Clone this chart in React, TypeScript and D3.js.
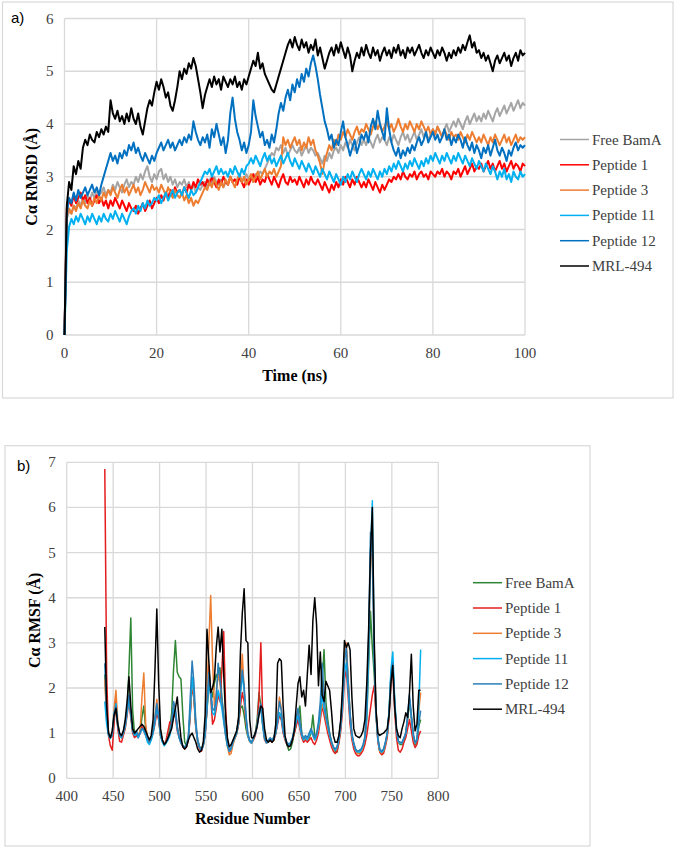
import React from 'react';
import * as d3 from 'd3';

// RMSD (a): one value every 0.5 ns, 0 - 100 ns
const rmsdFreeBamA = [
  0.00, 2.20, 2.35, 2.30, 2.45, 2.40, 2.55, 2.45, 2.60, 2.50,
  2.65, 2.55, 2.70, 2.60, 2.75, 2.65, 2.70, 2.80, 2.65, 2.75,
  2.70, 2.85, 2.75, 2.90, 2.80, 2.70, 2.85, 2.95, 2.80, 2.90,
  2.85, 3.00, 2.90, 3.05, 2.95, 3.10, 3.20, 3.00, 2.90, 3.05,
  2.95, 3.10, 3.15, 2.95, 3.05, 2.90, 3.00, 2.85, 2.95, 2.80,
  2.90, 2.85, 2.95, 2.80, 2.90, 2.75, 2.85, 2.70, 2.80, 2.75,
  2.85, 2.90, 2.80, 2.95, 2.85, 3.00, 2.90, 2.85, 2.95, 2.80,
  2.90, 2.85, 3.00, 2.90, 2.95, 2.85, 3.00, 2.90, 2.95, 3.05,
  2.95, 3.00, 2.90, 3.05, 3.00, 3.10, 3.05, 3.15, 3.25, 3.35,
  3.45, 3.40, 3.55, 3.50, 3.60, 3.45, 3.55, 3.40, 3.50, 3.60,
  3.50, 3.45, 3.55, 3.40, 3.50, 3.60, 3.45, 3.55, 3.50, 3.40,
  3.45, 3.35, 3.25, 3.40, 3.30, 3.45, 3.35, 3.50, 3.55, 3.45,
  3.60, 3.50, 3.65, 3.55, 3.70, 3.60, 3.50, 3.65, 3.75, 3.60,
  3.70, 3.60, 3.75, 3.65, 3.55, 3.70, 3.80, 3.65, 3.75, 3.70,
  3.60, 3.75, 3.65, 3.80, 3.70, 3.60, 3.75, 3.85, 3.70, 3.80,
  3.65, 3.75, 3.85, 3.70, 3.80, 3.90, 3.75, 3.85, 3.70, 3.80,
  3.90, 3.80, 3.95, 3.85, 3.75, 3.90, 4.00, 3.85, 3.95, 4.05,
  3.95, 4.10, 4.00, 3.90, 4.05, 4.15, 4.00, 4.10, 4.20, 4.05,
  4.15, 4.05, 4.20, 4.10, 4.25, 4.15, 4.05, 4.20, 4.30, 4.15,
  4.25, 4.35, 4.20, 4.30, 4.40, 4.25, 4.35, 4.45, 4.30, 4.40,
  4.35,
];
const rmsdPeptide1 = [
  0.00, 2.40, 2.55, 2.45, 2.65, 2.50, 2.60, 2.70, 2.55, 2.65,
  2.50, 2.60, 2.45, 2.55, 2.65, 2.50, 2.60, 2.45, 2.55, 2.40,
  2.55, 2.45, 2.60, 2.50, 2.40, 2.55, 2.45, 2.35, 2.50, 2.40,
  2.35, 2.45, 2.30, 2.40, 2.50, 2.35, 2.45, 2.55, 2.40, 2.50,
  2.60, 2.50, 2.65, 2.55, 2.70, 2.60, 2.75, 2.65, 2.80, 2.70,
  2.75, 2.65, 2.80, 2.70, 2.85, 2.75, 2.90, 2.80, 2.95, 2.85,
  2.90, 2.80, 2.95, 2.85, 3.00, 2.90, 2.80, 2.95, 2.85, 3.00,
  2.90, 2.85, 3.00, 2.90, 2.95, 2.85, 3.00, 2.90, 2.80, 2.95,
  2.85, 2.95, 3.05, 2.90, 3.00, 2.85, 2.95, 2.90, 3.05, 2.95,
  2.85, 3.00, 2.90, 2.80, 2.95, 3.05, 2.90, 2.85, 3.00, 2.90,
  2.95, 2.85, 3.00, 2.90, 2.80, 2.95, 2.85, 3.00, 2.90, 2.85,
  2.95, 2.85, 2.75, 2.90, 2.80, 2.70, 2.85, 2.75, 2.90, 2.80,
  2.95, 2.85, 3.00, 2.90, 2.80, 2.95, 2.85, 3.00, 2.90, 2.80,
  2.90, 2.80, 2.95, 2.85, 2.75, 2.90, 2.80, 2.70, 2.85, 2.75,
  2.85, 2.95, 2.90, 3.00, 2.95, 3.05, 2.95, 3.10, 3.00, 2.95,
  3.05, 3.00, 3.10, 2.95, 3.05, 3.10, 3.00, 3.05, 2.95, 3.10,
  3.05, 3.00, 3.10, 3.05, 3.15, 3.00, 3.10, 3.05, 2.95, 3.10,
  3.05, 3.15, 3.00, 3.10, 3.20, 3.05, 3.15, 3.25, 3.10, 3.20,
  3.15, 3.25, 3.10, 3.20, 3.30, 3.15, 3.25, 3.10, 3.20, 3.30,
  3.15, 3.25, 3.10, 3.20, 3.30, 3.15, 3.25, 3.20, 3.10, 3.25,
  3.20,
];
const rmsdPeptide3 = [
  0.00, 2.25, 2.40, 2.30, 2.45, 2.35, 2.50, 2.40, 2.55, 2.45,
  2.40, 2.55, 2.45, 2.60, 2.50, 2.65, 2.55, 2.70, 2.60, 2.75,
  2.65, 2.80, 2.70, 2.60, 2.75, 2.85, 2.70, 2.80, 2.65, 2.75,
  2.85, 2.70, 2.80, 2.65, 2.75, 2.90, 2.80, 2.70, 2.85, 2.75,
  2.80, 2.70, 2.85, 2.75, 2.65, 2.80, 2.70, 2.60, 2.75, 2.65,
  2.60, 2.70, 2.55, 2.65, 2.50, 2.60, 2.45, 2.55, 2.50, 2.60,
  2.70, 2.80, 2.75, 2.90, 2.80, 2.95, 2.85, 2.75, 2.90, 2.80,
  2.95, 2.85, 3.00, 2.90, 2.80, 2.95, 3.05, 2.90, 3.00, 2.85,
  2.95, 3.05, 2.90, 3.00, 3.10, 2.95, 3.05, 3.15, 3.00, 3.10,
  3.05, 3.15, 3.00, 3.10, 3.20, 3.75, 3.60, 3.70, 3.55, 3.65,
  3.75, 3.60, 3.70, 3.50, 3.65, 3.55, 3.75, 3.60, 3.70, 3.50,
  3.40, 3.25, 3.05, 3.30, 3.45, 3.60, 3.50, 3.70, 3.60, 3.80,
  3.70, 3.85, 3.75, 3.90, 3.80, 3.70, 3.85, 3.95, 3.80, 3.90,
  3.85, 4.00, 3.90, 3.80, 3.95, 4.05, 3.90, 4.00, 3.85, 3.95,
  4.05, 3.90, 4.00, 3.85, 3.95, 4.10, 3.95, 3.85, 4.00, 3.90,
  4.05, 3.95, 3.85, 4.00, 3.90, 4.05, 3.95, 3.85, 3.95, 3.80,
  3.90, 3.80, 3.95, 3.85, 3.75, 3.90, 3.80, 3.70, 3.85, 3.75,
  3.80, 3.70, 3.85, 3.75, 3.65, 3.80, 3.70, 3.85, 3.75, 3.65,
  3.75, 3.65, 3.80, 3.70, 3.60, 3.75, 3.65, 3.80, 3.70, 3.60,
  3.70, 3.80, 3.65, 3.75, 3.60, 3.70, 3.80, 3.65, 3.75, 3.70,
  3.75,
];
const rmsdPeptide11 = [
  0.00, 1.60, 2.05, 2.20, 2.10, 2.25, 2.15, 2.30, 2.20, 2.10,
  2.25, 2.15, 2.30, 2.20, 2.10, 2.25, 2.15, 2.30, 2.20, 2.15,
  2.30, 2.20, 2.35, 2.25, 2.15, 2.30, 2.20, 2.10, 2.25, 2.35,
  2.40, 2.30, 2.45, 2.35, 2.50, 2.40, 2.55, 2.45, 2.50, 2.60,
  2.55, 2.65, 2.50, 2.60, 2.70, 2.55, 2.65, 2.75, 2.60, 2.70,
  2.75, 2.65, 2.80, 2.70, 2.60, 2.75, 2.65, 2.70, 2.80, 2.90,
  3.00, 3.10, 3.05, 3.15, 3.00, 3.10, 3.20, 3.05, 3.15, 3.05,
  3.10, 3.00, 3.15, 3.05, 3.20, 3.10, 3.00, 3.15, 3.05, 3.20,
  3.25, 3.35, 3.25, 3.40, 3.30, 3.20, 3.35, 3.45, 3.30, 3.40,
  3.25, 3.35, 3.20, 3.30, 3.40, 3.25, 3.35, 3.45, 3.30, 3.20,
  3.35, 3.25, 3.15, 3.30, 3.20, 3.10, 3.25, 3.15, 3.05, 3.20,
  3.10, 3.00, 3.15, 3.05, 2.95, 3.10, 3.00, 2.90, 3.05, 2.95,
  2.85, 3.00, 2.90, 3.05, 2.95, 3.10, 3.00, 2.90, 3.05, 3.15,
  3.05, 2.95, 3.10, 3.00, 3.15, 3.05, 2.95, 3.10, 3.00, 3.15,
  3.05, 3.20, 3.10, 3.25, 3.15, 3.30, 3.20, 3.10, 3.25, 3.15,
  3.30, 3.20, 3.35, 3.25, 3.15, 3.30, 3.20, 3.35, 3.25, 3.40,
  3.30, 3.45, 3.35, 3.25, 3.40, 3.30, 3.45, 3.35, 3.25, 3.40,
  3.30, 3.45, 3.35, 3.25, 3.40, 3.30, 3.20, 3.35, 3.25, 3.15,
  3.30, 3.20, 3.10, 3.25, 3.15, 3.05, 3.20, 3.10, 2.95, 3.10,
  3.00, 3.15, 2.95, 3.05, 2.90, 3.10, 3.00, 2.95, 3.10, 3.00,
  3.05,
];
const rmsdPeptide12 = [
  0.00, 2.30, 2.60, 2.50, 2.70, 2.55, 2.75, 2.60, 2.70, 2.80,
  2.65, 2.75, 2.85, 2.70, 2.80, 2.65, 2.85, 3.00, 3.15, 3.30,
  3.45, 3.30, 3.40, 3.25, 3.45, 3.35, 3.50, 3.40, 3.60, 3.50,
  3.65, 3.45, 3.55, 3.40, 3.30, 3.45, 3.35, 3.25, 3.40, 3.30,
  3.45, 3.55, 3.65, 3.50, 3.60, 3.70, 3.55, 3.65, 3.50, 3.60,
  3.70, 3.60, 3.75, 3.65, 3.80, 3.70, 4.05, 3.85, 3.70, 3.60,
  3.75, 3.65, 3.80, 3.55, 3.90, 3.75, 4.00, 3.80, 3.60, 3.75,
  3.45, 3.70, 4.20, 4.50, 4.10, 3.85, 3.70, 3.50, 3.65, 3.45,
  3.60, 3.85, 4.45, 4.15, 3.95, 3.75, 3.85, 3.60, 3.70, 3.55,
  3.80, 3.65, 3.90, 4.20, 4.40, 4.25, 4.50, 4.65, 4.45, 4.75,
  4.60, 4.85, 4.70, 4.95, 4.80, 5.05, 4.90, 5.15, 5.30, 5.10,
  4.85, 4.55, 4.30, 4.05, 3.90, 3.70, 3.80, 3.55, 3.70, 3.60,
  3.85, 4.05, 3.75, 3.60, 3.40, 3.55, 3.70, 3.45, 3.60, 3.80,
  3.70, 3.85, 3.65, 3.95, 4.10, 3.90, 4.25, 4.00, 3.85, 3.70,
  4.30, 3.90, 3.65, 3.50, 3.40, 3.55, 3.35, 3.50, 3.40, 3.55,
  3.45, 3.60, 3.50, 3.65, 3.75, 3.60, 3.70, 3.85, 3.65, 3.75,
  3.85, 3.70, 3.80, 3.65, 3.75, 3.90, 3.70, 3.80, 3.60, 3.75,
  3.65, 3.80, 3.70, 3.55, 3.75, 3.60, 3.50, 3.65, 3.45, 3.60,
  3.50, 3.35, 3.55, 3.45, 3.60, 3.40, 3.55, 3.70, 3.50, 3.40,
  3.55, 3.45, 3.30, 3.50, 3.40, 3.55, 3.65, 3.50, 3.60, 3.55,
  3.60,
];
const rmsdMRL494 = [
  0.00, 2.45, 2.90, 2.75, 3.20, 3.05, 3.30, 3.15, 3.55, 3.70,
  3.60, 3.80, 3.70, 3.65, 3.85, 3.75, 3.90, 3.80, 3.95, 3.85,
  4.45, 4.20, 4.10, 4.25, 4.05, 4.15, 4.00, 4.20, 4.05, 4.30,
  4.10, 4.00, 4.20, 3.95, 3.80, 4.05, 4.30, 4.45, 4.35, 4.60,
  4.80, 4.65, 4.85, 4.70, 4.50, 4.60, 4.35, 4.25, 4.45, 4.70,
  5.00, 4.85, 5.05, 4.95, 5.15, 5.05, 5.25, 5.10, 4.85, 4.60,
  4.30, 4.55, 4.70, 4.85, 4.70, 4.90, 4.75, 4.85, 4.65, 4.90,
  4.80, 4.70, 4.85, 4.75, 4.90, 4.70, 4.80, 4.65, 4.85, 4.75,
  4.90, 5.05, 5.20, 5.10, 5.35, 5.05, 5.15, 4.95, 4.85, 4.75,
  4.65, 4.60, 4.75, 4.90, 5.05, 5.20, 5.35, 5.50, 5.60, 5.45,
  5.65, 5.50, 5.40, 5.60, 5.45, 5.55, 5.35, 5.50, 5.40, 5.60,
  5.30, 5.45, 5.25, 5.05, 5.20, 5.35, 5.45, 5.30, 5.50, 5.35,
  5.55, 5.40, 5.25, 5.45, 5.30, 5.00, 5.20, 5.35, 5.25, 5.45,
  5.30, 5.50, 5.35, 5.25, 5.45, 5.30, 5.40, 5.20, 5.35, 5.45,
  5.30, 5.40, 5.25, 5.45, 5.35, 5.50, 5.30, 5.40, 5.25, 5.45,
  5.35, 5.45, 5.30, 5.40, 5.50, 5.35, 5.25, 5.40, 5.30, 5.45,
  5.35, 5.25, 5.40, 5.30, 5.45, 5.35, 5.20, 5.35, 5.25, 5.40,
  5.30, 5.45, 5.35, 5.50, 5.40, 5.55, 5.68, 5.45, 5.55, 5.35,
  5.40, 5.25, 5.35, 5.20, 5.30, 5.15, 5.00, 5.20, 5.30, 5.15,
  5.25, 5.35, 5.20, 5.30, 5.10, 5.25, 5.35, 5.20, 5.40, 5.30,
  5.35,
];

// RMSF (b): one value every 2nd residue, 441 - 781
const rmsfFreeBamA = [
  2.30, 1.40, 1.00, 0.90, 0.95, 1.35, 1.50, 1.15, 0.95, 0.90,
  1.00, 1.20, 1.45, 2.40, 3.55, 1.50, 1.00, 1.00, 0.95, 1.00,
  1.35, 1.60, 1.10, 0.90, 0.80, 0.90, 1.05, 1.30, 1.50, 1.30,
  0.95, 0.82, 0.75, 0.80, 0.90, 1.10, 1.45, 2.40, 3.05, 2.35,
  2.25, 2.20, 1.40, 0.80, 0.72, 0.90, 1.45, 2.10, 1.80, 1.15,
  0.85, 0.70, 0.62, 0.75, 1.00, 1.50, 2.05, 2.00, 1.80, 2.10,
  2.30, 2.20, 2.45, 1.80, 1.40, 1.00, 0.75, 0.60, 0.65, 0.80,
  0.90, 1.00, 1.20, 1.55, 1.60, 1.40, 1.10, 0.92, 0.82, 0.78,
  0.88, 1.00, 1.30, 1.90, 1.60, 1.20, 0.90, 0.80, 0.82, 0.88,
  0.82, 0.88, 1.00, 1.25, 1.45, 1.35, 1.05, 0.88, 0.75, 0.62,
  0.65, 0.80, 1.00, 1.20, 1.35, 1.60, 1.00, 0.85, 0.90, 0.85,
  0.90, 1.00, 1.40, 0.95, 0.90, 1.10, 1.45, 2.10, 2.85, 1.70,
  1.30, 1.00, 0.80, 0.68, 0.60, 0.58, 0.80, 1.15, 1.80, 2.70,
  2.85, 2.10, 1.40, 0.95, 0.75, 0.62, 0.55, 0.55, 0.60, 0.70,
  0.85, 1.30, 2.50, 3.70, 2.90, 2.30, 1.40, 0.85, 0.60, 0.55,
  0.60, 0.75, 0.95, 1.45, 2.30, 2.60, 1.70, 1.05, 0.80, 0.75,
  0.75, 0.85, 0.95, 1.30, 1.70, 1.35, 0.95, 0.75, 0.80, 1.15,
  1.30,
];
const rmsfPeptide1 = [
  6.85, 2.30, 0.95, 0.72, 0.62, 1.20, 1.75, 1.10, 0.82, 0.80,
  0.95, 1.10, 1.40, 1.70, 1.35, 1.00, 0.90, 0.95, 0.90, 1.00,
  1.15, 1.05, 0.95, 0.85, 0.78, 0.88, 1.00, 1.20, 1.45, 1.30,
  0.95, 0.82, 0.75, 0.85, 1.05, 1.25, 1.15, 1.40, 1.35, 1.05,
  0.90, 0.78, 0.70, 0.65, 0.70, 0.85, 1.40, 2.10, 1.75, 1.10,
  0.80, 0.65, 0.60, 0.72, 0.95, 1.50, 2.50, 1.80, 1.20, 1.30,
  1.55, 1.85, 1.70, 2.40, 3.25, 1.60, 0.80, 0.58, 0.62, 0.78,
  0.88, 0.98, 1.20, 1.60, 1.90, 1.70, 1.25, 0.95, 0.82, 0.78,
  0.85, 0.95, 1.15, 1.80, 3.00, 1.30, 0.85, 0.78, 0.82, 0.85,
  0.80, 0.85, 0.98, 1.20, 1.40, 1.30, 1.00, 0.85, 0.75, 0.70,
  0.75, 0.85, 1.00, 1.15, 1.30, 1.10, 0.90, 0.80, 0.85, 0.80,
  0.85, 0.90, 0.80, 0.75, 0.85, 1.00, 1.30, 1.60, 1.40, 1.20,
  1.00, 0.85, 0.70, 0.60, 0.55, 0.60, 0.78, 1.05, 1.50, 2.20,
  2.40, 1.80, 1.20, 0.85, 0.65, 0.55, 0.50, 0.50, 0.55, 0.62,
  0.75, 0.95, 1.25, 1.55, 1.85, 2.05, 1.40, 0.80, 0.58, 0.52,
  0.55, 0.70, 0.90, 1.35, 2.10, 2.40, 1.50, 0.90, 0.62, 0.58,
  0.65, 0.80, 0.90, 1.10, 1.30, 1.05, 0.80, 0.68, 0.75, 0.95,
  1.05,
];
const rmsfPeptide3 = [
  2.20, 1.30, 1.00, 0.90, 1.00, 1.55, 1.95, 1.25, 0.95, 0.90,
  1.00, 1.15, 1.50, 1.80, 1.40, 1.05, 0.95, 1.00, 0.95, 1.05,
  1.80, 2.33, 1.20, 0.85, 0.78, 0.88, 1.05, 1.35, 1.75, 1.40,
  1.00, 0.85, 0.75, 0.80, 0.88, 1.00, 1.20, 1.60, 1.50, 1.15,
  0.92, 0.80, 0.72, 0.68, 0.72, 0.88, 1.50, 2.20, 1.80, 1.15,
  0.82, 0.68, 0.62, 0.75, 1.05, 1.90, 3.00, 4.05, 2.60, 1.60,
  1.90, 2.30, 2.10, 1.70, 1.30, 0.95, 0.70, 0.52, 0.55, 0.75,
  0.88, 1.00, 1.30, 2.00, 2.75, 1.95, 1.30, 0.95, 0.82, 0.78,
  0.88, 1.00, 1.20, 1.50, 1.60, 1.20, 0.88, 0.78, 0.82, 0.88,
  0.82, 0.88, 1.05, 1.40, 1.80, 1.55, 1.10, 0.88, 0.78, 0.72,
  0.78, 0.88, 1.05, 1.30, 1.50, 1.20, 0.95, 0.85, 0.92, 0.85,
  0.95, 1.05, 0.95, 0.85, 0.95, 1.10, 1.40, 1.65, 1.50, 1.30,
  1.10, 0.95, 0.80, 0.68, 0.62, 0.68, 0.85, 1.20, 1.90, 2.80,
  3.00, 2.20, 1.45, 0.95, 0.75, 0.62, 0.55, 0.56, 0.60, 0.70,
  0.90, 1.50, 2.90, 4.60, 5.30, 2.90, 1.50, 0.85, 0.60, 0.56,
  0.60, 0.75, 0.98, 1.45, 2.20, 2.50, 1.70, 1.05, 0.80, 0.78,
  0.78, 0.88, 1.00, 1.35, 1.75, 1.35, 0.95, 0.78, 0.85, 1.50,
  1.90,
];
const rmsfPeptide11 = [
  1.70, 1.20, 0.95, 0.88, 1.00, 1.45, 1.65, 1.20, 0.95, 0.90,
  1.00, 1.15, 1.45, 1.75, 1.40, 1.05, 0.95, 1.00, 0.90, 1.00,
  1.10, 1.05, 0.95, 0.80, 0.75, 0.85, 1.00, 1.25, 1.55, 1.35,
  0.95, 0.80, 0.72, 0.78, 0.85, 0.95, 1.15, 1.55, 1.45, 1.10,
  0.90, 0.78, 0.72, 0.68, 0.72, 0.88, 1.50, 2.25, 1.85, 1.15,
  0.82, 0.68, 0.62, 0.72, 0.95, 1.55, 2.10, 1.85, 1.45, 1.40,
  1.65, 1.95, 1.75, 1.55, 1.25, 0.95, 0.72, 0.60, 0.65, 0.80,
  0.90, 1.00, 1.25, 1.85, 2.30, 1.95, 1.35, 0.95, 0.82, 0.78,
  0.88, 0.98, 1.15, 1.45, 1.55, 1.15, 0.88, 0.78, 0.82, 0.88,
  0.82, 0.88, 1.00, 1.25, 1.45, 1.35, 1.05, 0.88, 0.78, 0.72,
  0.78, 0.88, 1.05, 1.25, 1.40, 1.15, 0.95, 0.85, 0.92, 0.85,
  0.95, 1.05, 0.95, 0.85, 0.95, 1.15, 1.45, 1.85, 1.55, 1.35,
  1.15, 0.95, 0.80, 0.68, 0.62, 0.68, 0.85, 1.15, 1.65, 2.35,
  2.55, 1.95, 1.35, 0.95, 0.75, 0.62, 0.58, 0.58, 0.62, 0.72,
  0.88, 1.40, 2.70, 5.00, 6.15, 2.80, 1.40, 0.85, 0.62, 0.58,
  0.62, 0.78, 1.00, 1.50, 2.40, 2.80, 1.80, 1.10, 0.82, 0.78,
  0.78, 0.88, 1.00, 1.35, 1.75, 1.35, 0.95, 0.78, 0.85, 1.60,
  2.85,
];
const rmsfPeptide12 = [
  2.55, 1.50, 1.00, 0.90, 0.95, 1.40, 1.60, 1.15, 0.95, 0.92,
  1.05, 1.20, 1.55, 1.85, 1.45, 1.05, 0.98, 1.05, 0.95, 1.00,
  1.10, 1.08, 1.00, 0.88, 0.80, 0.90, 1.05, 1.35, 1.65, 1.40,
  1.00, 0.85, 0.75, 0.80, 0.88, 1.00, 1.25, 1.70, 1.55, 1.15,
  0.92, 0.80, 0.72, 0.70, 0.75, 0.95, 1.80, 2.60, 2.10, 1.25,
  0.85, 0.70, 0.62, 0.75, 1.00, 1.65, 2.35, 2.00, 1.55, 1.50,
  1.80, 2.55, 2.20, 1.75, 1.35, 1.00, 0.75, 0.62, 0.68, 0.82,
  0.92, 1.05, 1.30, 1.95, 2.40, 2.05, 1.40, 1.00, 0.85, 0.80,
  0.90, 1.00, 1.20, 1.50, 1.65, 1.20, 0.90, 0.80, 0.85, 0.90,
  0.85, 0.92, 1.05, 1.35, 1.70, 1.50, 1.10, 0.90, 0.80, 0.75,
  0.80, 0.90, 1.10, 1.35, 1.55, 1.25, 1.00, 0.88, 0.95, 0.90,
  1.00, 1.10, 1.00, 0.90, 1.00, 1.25, 1.70, 2.55, 1.80, 1.40,
  1.20, 1.00, 0.82, 0.70, 0.65, 0.70, 0.90, 1.25, 1.85, 2.60,
  2.90, 2.15, 1.45, 1.00, 0.78, 0.65, 0.60, 0.62, 0.65, 0.75,
  0.92, 1.60, 3.10, 5.45, 4.90, 2.60, 1.45, 0.90, 0.65, 0.60,
  0.65, 0.80, 1.00, 1.45, 2.25, 2.55, 1.70, 1.05, 0.82, 0.80,
  0.80, 0.90, 1.00, 1.40, 1.85, 1.40, 1.00, 0.80, 0.85, 1.20,
  1.50,
];
const rmsfMRL494 = [
  3.35, 1.60, 1.00, 0.90, 1.05, 1.40, 1.55, 1.20, 1.00, 0.95,
  1.05, 1.30, 1.70, 2.25, 1.60, 1.10, 1.00, 1.05, 1.10, 1.15,
  1.20, 1.15, 1.05, 0.95, 0.85, 0.95, 1.30, 2.40, 3.75, 2.10,
  1.10, 0.85, 0.75, 0.80, 0.90, 1.00, 1.10, 1.35, 1.55, 1.80,
  1.30, 0.90, 0.70, 0.65, 0.70, 0.85, 0.95, 1.00, 0.90, 0.80,
  0.65, 0.58, 0.62, 0.80, 1.40, 3.30, 2.60, 1.90, 2.00, 2.20,
  2.90, 3.35, 2.80, 3.30, 2.30, 1.40, 0.90, 0.70, 0.75, 0.85,
  0.95, 1.05, 1.35, 2.80, 3.65, 4.20, 3.05, 3.00, 1.30, 0.90,
  0.90, 1.00, 1.15, 1.40, 1.60, 1.55, 1.10, 0.85, 0.80, 0.85,
  0.80, 0.85, 1.20, 2.55, 2.65, 2.60, 1.60, 0.95, 0.75, 0.70,
  0.72, 0.85, 1.05, 1.60, 2.10, 2.25, 1.80, 1.95, 1.60, 2.30,
  2.95, 2.30, 3.50, 4.00, 3.40, 2.05, 2.80, 1.85, 1.70, 2.15,
  2.05, 1.95, 1.50, 0.95, 0.80, 0.80, 0.95, 1.30, 2.05, 3.05,
  2.90, 3.00, 2.85, 1.80, 1.10, 0.95, 0.92, 0.90, 0.95, 1.05,
  1.30, 2.10, 3.30, 5.00, 6.00, 3.10, 1.50, 1.00, 0.95, 0.98,
  1.00, 1.05, 1.10, 1.40, 2.10, 2.50, 1.60, 1.10, 0.95, 0.90,
  1.10, 1.25, 1.45, 1.35, 1.90, 2.75, 1.60, 1.05, 1.20, 1.95,
  1.95,
];

const seriesNames = ['Free BamA', 'Peptide 1', 'Peptide 3', 'Peptide 11', 'Peptide 12', 'MRL-494'];
const rmsdColors = ['#a5a5a5', '#ff0000', '#ed7d31', '#00b0f0', '#0070c0', '#000000'];
const rmsfColors = ['#2e8534', '#e41e1e', '#ed7d31', '#00b0f0', '#2a7fba', '#000000'];

const timeTicks = [0, 20, 40, 60, 80, 100];
const rmsdTicks = [0, 1, 2, 3, 4, 5, 6];
const residueTicks = [400, 450, 500, 550, 600, 650, 700, 750, 800];
const rmsfTicks = [0, 1, 2, 3, 4, 5, 6, 7];

const serif = '"Liberation Serif", "Times New Roman", serif';
const sans = '"Liberation Sans", Arial, sans-serif';
const grid = '#d9d9d9';

type Pt = [number, number];

function Panel(props: {
  tag: string; tagX: number; tagY: number;
  frame: [number, number, number, number];
  x: d3.ScaleLinear<number, number>; y: d3.ScaleLinear<number, number>;
  xTicks: number[]; yTicks: number[];
  xTitle: string; yTitle: string; yTitleX: number;
  lines: Pt[][]; colors: string[]; lineWidth: number;
  legendX: number; legendY: number;
}) {
  const { x, y, frame } = props;
  const [x0, x1] = x.range();
  const [yb, yt] = y.range();
  const line = d3.line<Pt>().x(d => x(d[0])).y(d => y(d[1]));
  return (
    <g>
      <rect x={frame[0]} y={frame[1]} width={frame[2] - frame[0]} height={frame[3] - frame[1]}
        fill="#fff" stroke={grid} strokeWidth={1.2} />
      <text x={props.tagX} y={props.tagY} fontFamily={sans} fontSize={15}>{props.tag}</text>
      {props.xTicks.map(t => (
        <line key={'gx' + t} x1={x(t)} x2={x(t)} y1={yb} y2={yt} stroke={grid} strokeWidth={1.3} />
      ))}
      {props.yTicks.map(t => (
        <line key={'gy' + t} x1={x0} x2={x1} y1={y(t)} y2={y(t)} stroke={grid} strokeWidth={1.3} />
      ))}
      {props.xTicks.map(t => (
        <text key={'tx' + t} x={x(t)} y={yb + 23} textAnchor="middle" fontFamily={serif} fontSize={15}
          fill="#404040">{t}</text>
      ))}
      {props.yTicks.map(t => (
        <text key={'ty' + t} x={x0 - 11} y={y(t) + 5} textAnchor="end" fontFamily={serif} fontSize={15}
          fill="#404040">{t}</text>
      ))}
      {props.lines.map((pts, i) => (
        <path key={'s' + i} d={line(pts) ?? ''} fill="none" stroke={props.colors[i]}
          strokeWidth={props.lineWidth} strokeLinejoin="round" />
      ))}
      <text x={(x0 + x1) / 2} y={yb + 46} textAnchor="middle" fontFamily={serif} fontSize={16}
        fontWeight="bold">{props.xTitle}</text>
      <text transform={`translate(${props.yTitleX},${(yb + yt) / 2}) rotate(-90)`} textAnchor="middle"
        fontFamily={serif} fontSize={16} fontWeight="bold">{props.yTitle}</text>
      {seriesNames.map((n, i) => {
        const ly = props.legendY + i * 25.3;
        return (
          <g key={'l' + i}>
            <line x1={props.legendX} x2={props.legendX + 29} y1={ly} y2={ly} stroke={props.colors[i]} strokeWidth={1.5} />
            <text x={props.legendX + 32} y={ly + 5} fontFamily={serif} fontSize={15} fill="#404040">{n}</text>
          </g>
        );
      })}
    </g>
  );
}

export default function App() {
  const rmsd = [rmsdFreeBamA, rmsdPeptide1, rmsdPeptide3, rmsdPeptide11, rmsdPeptide12, rmsdMRL494]
    .map(vals => vals.map((v, i) => [i * 0.5, v] as Pt));
  const rmsf = [rmsfFreeBamA, rmsfPeptide1, rmsfPeptide3, rmsfPeptide11, rmsfPeptide12, rmsfMRL494]
    .map(vals => vals.map((v, i) => [441 + i * 2, v] as Pt));

  const xa = d3.scaleLinear().domain([0, 100]).range([64.5, 525]);
  const ya = d3.scaleLinear().domain([0, 6]).range([335, 18.5]);
  const xb = d3.scaleLinear().domain([400, 800]).range([66.7, 438.3]);
  const yb = d3.scaleLinear().domain([0, 7]).range([778.3, 462.3]);

  return (
    <svg width={678} height={848} style={{ position: 'absolute', left: 0, top: 0, background: '#fff' }}>
      <Panel tag="a)" tagX={11} tagY={23} frame={[2.5, 2, 673, 398]}
        x={xa} y={ya} xTicks={timeTicks} yTicks={rmsdTicks}
        xTitle="Time (ns)" yTitle="Cα RMSD (Å)" yTitleX={37}
        lines={rmsd} colors={rmsdColors} lineWidth={2}
        legendX={560} legendY={139.5} />
      <Panel tag="b)" tagX={17} tagY={471} frame={[5, 445.7, 590, 846]}
        x={xb} y={yb} xTicks={residueTicks} yTicks={rmsfTicks}
        xTitle="Residue Number" yTitle="Cα RMSF (Å)" yTitleX={40}
        lines={rmsf} colors={rmsfColors} lineWidth={1.5}
        legendX={473} legendY={582.7} />
    </svg>
  );
}
